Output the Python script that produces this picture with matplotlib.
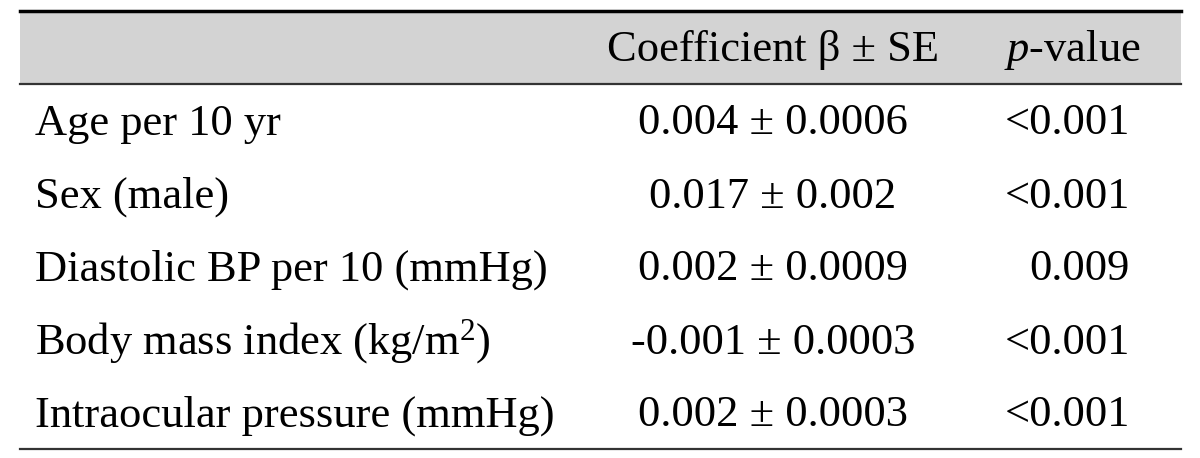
import matplotlib
matplotlib.use("Agg")
import matplotlib.pyplot as plt

plt.rcParams['font.family'] = ['Liberation Serif', 'DejaVu Serif']
plt.rcParams['mathtext.fontset'] = 'custom'
plt.rcParams['mathtext.rm'] = 'Liberation Serif'
plt.rcParams['mathtext.it'] = 'Liberation Serif:italic'

headers = ["", "Coefficient β ± SE", r"$\mathit{p}$-value"]
variables = [
    "Age per 10 yr",
    "Sex (male)",
    "Diastolic BP per 10 (mmHg)",
    r"Body mass index (kg/m$^{2}$)",
    "Intraocular pressure (mmHg)",
]
coefs = ["0.004 ± 0.0006", "0.017 ± 0.002", "0.002 ± 0.0009", "-0.001 ± 0.0003", "0.002 ± 0.0003"]
pvals = ["<0.001", "<0.001", "0.009", "<0.001", "<0.001"]

W, H = 1200, 458
fig = plt.figure(figsize=(W / 100, H / 100), dpi=100)
ax = fig.add_axes([0, 0, 1, 1])
ax.set_xlim(0, W)
ax.set_ylim(H, 0)
ax.axis("off")

left, right = 20, 1181
fs = 32
top, head_bot, row_h = 11, 84, 73

# header band + rules
ax.fill_between([left, right], top, head_bot, color="#d3d3d3", lw=0)
ax.plot([left, right], [top, top], color="black", lw=2.5)
ax.plot([left, right], [head_bot, head_bot], color="#333333", lw=1.6)
bottom = head_bot + row_h * len(variables)
ax.plot([left, right], [bottom, bottom], color="#333333", lw=1.6)

base_off = 14  # baseline below cap centre
hy = (top + head_bot) / 2 + base_off
ax.text(773, hy, headers[1], fontsize=fs, ha="center", va="baseline")
ax.text(1072, hy, headers[2], fontsize=fs, ha="center", va="baseline")

for i, (v, c, p) in enumerate(zip(variables, coefs, pvals)):
    y = head_bot + row_h * (i + 0.5) + base_off
    ax.text(35, y, v, fontsize=fs, ha="left", va="baseline")
    ax.text(773, y, c, fontsize=fs, ha="center", va="baseline")
    ax.text(1130, y, p, fontsize=fs, ha="right", va="baseline")

fig.savefig("out.png", dpi=100)
